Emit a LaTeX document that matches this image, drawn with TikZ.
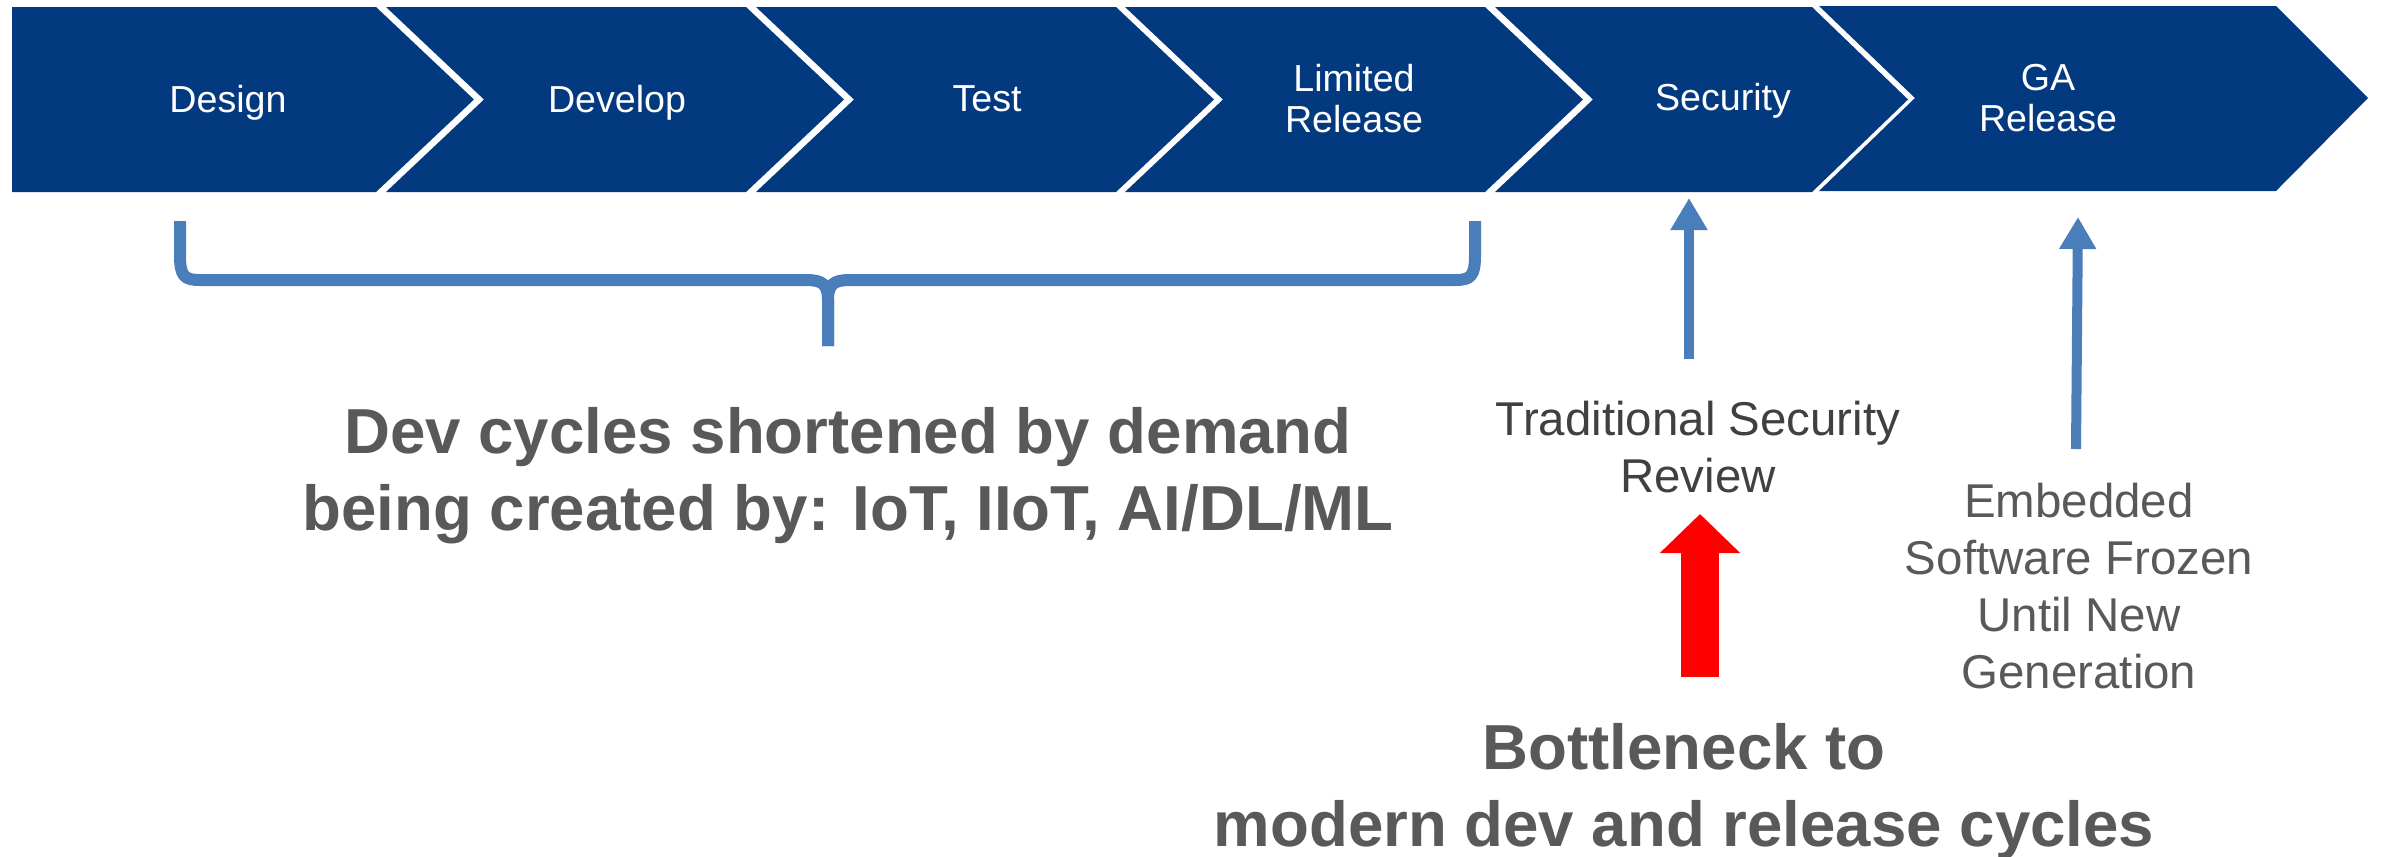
\documentclass[tikz,border=0pt]{standalone}
\usepackage{fontspec}
\setmainfont{Liberation Sans}
\usetikzlibrary{arrows.meta}
\definecolor{chevblue}{RGB}{3,57,127}
\definecolor{arrowblue}{RGB}{74,126,187}
\definecolor{darkgrey}{RGB}{64,64,64}
\definecolor{textgrey}{RGB}{89,89,89}
\begin{document}
\begin{tikzpicture}[x=0.1mm, y=-0.1mm,
    chev/.style = {fill=chevblue},
    phase/.style = {text=white, font=\fontsize{10.7}{11.5}\selectfont, align=center, inner sep=0, anchor=north},
    note/.style = {font=\fontsize{13.5}{16.3}\selectfont, align=center, inner sep=0, anchor=north},
    big/.style = {text=textgrey, font=\bfseries\fontsize{18.1}{21.9}\selectfont, align=center, inner sep=0, anchor=north},
    brace/.style = {draw=arrowblue, line width=1.2mm, line join=round},
    bluearrow/.style = {arrowblue, line width=1mm, -{Triangle[width=3.5mm,length=3.2mm]}},
    redarrow/.style = {red, line width=3.75mm, -{Triangle[width=7.8mm,length=3.9mm]}}]
    \useasboundingbox (0,0) rectangle (2382,856);

    % le frecce di fase
    \fill[chev] (12,7) -- (376,7) -- (474,99.5) -- (376,192) -- (12,192) -- cycle;
    \fill[chev] (386,7) -- (746,7) -- (844,99.5) -- (746,192) -- (386,192) -- (484,99.5) -- cycle;
    \fill[chev] (756,7) -- (1116,7) -- (1214,99.5) -- (1116,192) -- (756,192) -- (854,99.5) -- cycle;
    \fill[chev] (1125,7) -- (1485,7) -- (1583,99.5) -- (1485,192) -- (1125,192) -- (1223,99.5) -- cycle;
    \fill[chev] (1495,7) -- (1812,7) -- (1908,99.5) -- (1812,192) -- (1495,192) -- (1593,99.5) -- cycle;
    \fill[chev] (1819,6) -- (2276,6) -- (2368,98) -- (2276,191) -- (1819,191) -- (1915,98) -- cycle;

    \node[phase] (design) at (228,85) {Design};
    \node[phase] (develop) at (617,85) {Develop};
    \node[phase] (test) at (987,85) {Test};
    \node[phase] (limited) at (1354,64) {Limited\\Release};
    \node[phase] (security) at (1723,83) {Security};
    \node[phase] (garelease) at (2048,64) {GA\\Release};

    % graffa sotto le prime quattro fasi
    \draw[brace] (180,221) -- (180,255) .. controls (180,276) and (184,280) .. (200,280) -- (806,280)
        .. controls (822,280) and (828,284) .. (828,300) -- (828,346);
    \draw[brace] (1475,221) -- (1475,255) .. controls (1475,276) and (1471,280) .. (1455,280) -- (850,280)
        .. controls (834,280) and (828,284) .. (828,300) -- (828,346);

    % testi
    \node[big] (demand) at (848,407) {Dev cycles shortened by demand\\being created by: IoT, IIoT, AI/DL/ML};
    \node[note, text=darkgrey] (review) at (1698,400) {Traditional Security\\Review};
    \node[note, text=textgrey] (frozen) at (2079,482) {Embedded\\Software Frozen\\Until New\\Generation};
    \node[big] (bottleneck) at (1684,723) {Bottleneck to\\modern dev and release cycles};

    % frecce
    \coordinate (sectip) at (1689,198);
    \coordinate (secfoot) at (1689,359);
    \coordinate (gatip) at (2078,217);
    \coordinate (gafoot) at (2076,449);
    \coordinate (redtip) at (1700,514);
    \coordinate (redfoot) at (1700,677);

    \draw[bluearrow] (secfoot) -- (sectip);
    \draw[bluearrow] (gafoot) -- (gatip);
    \draw[redarrow] (redfoot) -- (redtip);

\end{tikzpicture}
\end{document}
